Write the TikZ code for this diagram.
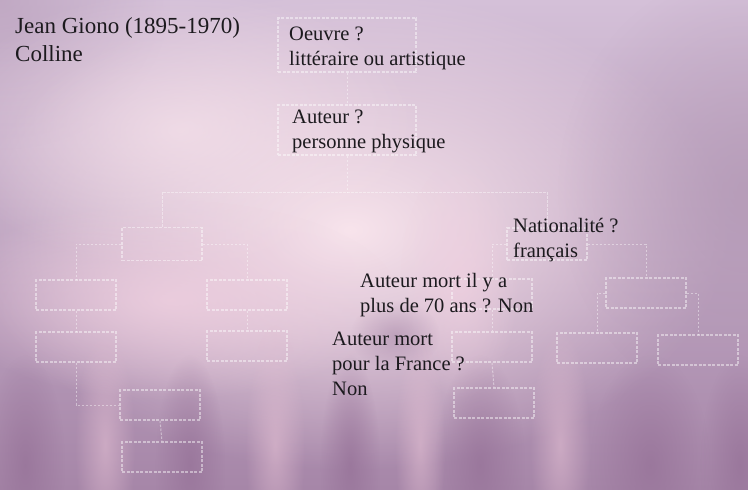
\documentclass[tikz,border=0pt]{standalone}
\usepackage{fontspec}
\setmainfont{Liberation Serif}
\usepackage{xcolor,tikz}
\usetikzlibrary{positioning,calc,fadings}
\definecolor{bgTop}{RGB}{212,192,216}
\definecolor{bgLow}{RGB}{166,134,168}
\definecolor{glowPink}{RGB}{248,228,236}
\definecolor{rosePink}{RGB}{240,208,224}
\definecolor{mistGrey}{RGB}{180,154,182}
\definecolor{streakLight}{RGB}{226,190,210}
\definecolor{streakDark}{RGB}{150,114,152}
\definecolor{inkText}{HTML}{1C1A1E}
\tikzfading[name=softglow, inner color=transparent!0, outer color=transparent!100]

\tikzset{
  treebox/.style={draw=white, draw opacity=0.45, line width=1.1pt,
    dash pattern=on 3pt off 1.5pt, minimum width=80pt, minimum height=30pt,
    inner sep=0pt},
  treelink/.style={draw=white, draw opacity=0.42, line width=1pt,
    dash pattern=on 2.5pt off 1.5pt},
  qtext/.style={anchor=base west, align=left, inner sep=0pt, text=inkText,
    font=\fontsize{20.5}{25}\selectfont},
}

\begin{document}
\begin{tikzpicture}[x=1pt,y=-1pt]

\useasboundingbox (0,0) rectangle (748,490);

% --- BACKGROUND: blurred pink / purple haze ---
\begin{scope}
  \clip (0,0) rectangle (748,490);
  \shade[top color=bgTop, bottom color=bgLow] (0,0) rectangle (748,490);
  \fill[mistGrey, path fading=softglow, fill opacity=0.6] (0,0) ellipse (170 and 150);
  \fill[glowPink, path fading=softglow] (350,230) ellipse (380 and 240);
  \fill[glowPink, path fading=softglow, fill opacity=0.7] (180,130) ellipse (240 and 140);
  \fill[rosePink, path fading=softglow, fill opacity=0.8] (170,300) ellipse (230 and 100);
  \fill[rosePink, path fading=softglow, fill opacity=0.7] (460,280) ellipse (60 and 120);
  \fill[mistGrey, path fading=softglow, fill opacity=0.8] (748,190) ellipse (190 and 220);
  \fill[streakDark, path fading=softglow, fill opacity=0.4] (395,335) ellipse (45 and 35);
  % vertical streaks near the bottom
  \foreach \sx/\sw in {25/40,190/35,350/30,480/45,650/60,740/40} {
    \fill[streakDark, path fading=softglow, fill opacity=0.75]
      (\sx,465) ellipse [x radius=\sw, y radius=110];
  }
  \foreach \sx/\sw in {105/30,275/30,420/25,560/30} {
    \fill[streakLight, path fading=softglow, fill opacity=0.6]
      (\sx,445) ellipse [x radius=\sw, y radius=120];
  }
\end{scope}

% --- TREE BOXES ---
\node[treebox, minimum width=138pt, minimum height=54pt] (boxOeuvre) at (347,45) {};
\node[treebox, minimum width=138pt, minimum height=50pt] (boxAuteur) at (347,130) {};
\node[treebox, minimum height=33pt] (boxLeft) at (162,244) {};
\node[treebox, minimum height=32pt] (boxNat)  at (547,244) {};
\node[treebox] (boxL1) at (76,295) {};
\node[treebox] (boxL2) at (76,347) {};
\node[treebox] (boxL3) at (160,405) {};
\node[treebox] (boxL4) at (162,457) {};
\node[treebox] (boxM1) at (247,295) {};
\node[treebox] (boxM2) at (247,346) {};
\node[treebox] (boxMid) at (492,294) {};
\node[treebox] (boxM3) at (492,347) {};
\node[treebox] (boxM4) at (494,403) {};
\node[treebox] (boxR1) at (646,293) {};
\node[treebox] (boxR2) at (597,348) {};
\node[treebox] (boxR3) at (698,350) {};

% --- LINKS ---
\coordinate (bus) at (0,192);
\draw[treelink] (boxOeuvre.south) -- (boxAuteur.north);
\draw[treelink] (boxAuteur.south) -- (boxAuteur.south |- bus);
\draw[treelink] (boxLeft.north) -- (boxLeft.north |- bus)
  -- (boxNat.north |- bus) -- (boxNat.north);
\draw[treelink] (boxLeft.west) -| (boxL1.north);
\draw[treelink] (boxLeft.east) -| (boxM1.north);
\draw[treelink] (boxL1.south) -- (boxL2.north);
\draw[treelink] (boxL2.south) |- (boxL3.west);
\draw[treelink] (boxL3.south) -- (boxL4.north);
\draw[treelink] (boxM1.south) -- (boxM2.north);
\draw[treelink] (boxNat.west) -| (boxMid.north);
\draw[treelink] (boxMid.south) -- (boxM3.north);
\draw[treelink] (boxM3.south) -- (boxM4.north);
\draw[treelink] (boxNat.east) -| (boxR1.north);
\draw[treelink] (boxR1.west) -| (boxR2.north);
\draw[treelink] (boxR1.east) -| (boxR3.north);

% --- TEXTS (anchored on the baseline of the last line) ---
\node[qtext, font=\fontsize{23}{28}\selectfont] (titre) at (15,61)
  {Jean Giono (1895-1970)\\Colline};
\node[qtext] (qOeuvre) at (289,65) {Oeuvre ?\\littéraire ou artistique};
\node[qtext] (qAuteur) at (292,148) {Auteur ?\\personne physique};
\node[qtext] (qNat) at (513,257) {Nationalité ?\\français};
\node[qtext] (qMort) at (360,312) {Auteur mort il y a\\plus de 70 ans ? Non};
\node[qtext] (qFrance) at (332,395) {Auteur mort\\pour la France ?\\Non};

\end{tikzpicture}
\end{document}
